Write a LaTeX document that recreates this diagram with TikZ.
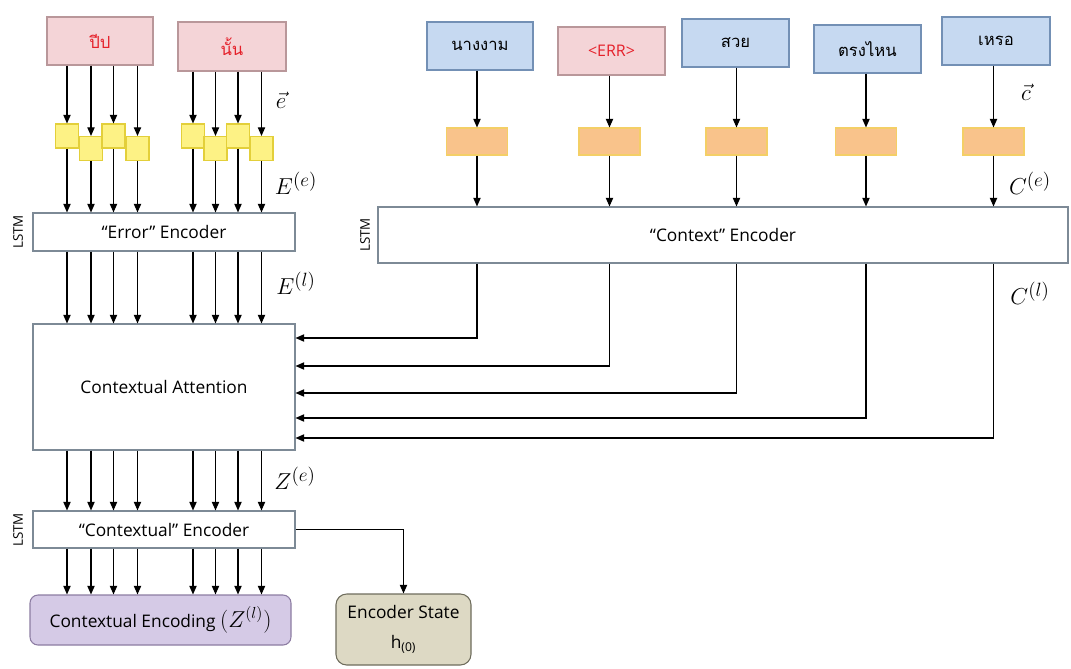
\documentclass[tikz,border=0pt]{standalone}
\usepackage{fontspec}
\setmainfont{Open Sans}
\newfontfamily\thaifont[Script=Thai]{Loma}
\usetikzlibrary{arrows.meta}
\definecolor{redfill}{HTML}{F4D4D7}
\definecolor{redline}{HTML}{B9979A}
\definecolor{redtext}{HTML}{E5202A}
\definecolor{bluefill}{HTML}{C6D9F1}
\definecolor{blueline}{HTML}{7390B5}
\definecolor{yfill}{HTML}{FDF285}
\definecolor{yline}{HTML}{E3CF3A}
\definecolor{ofill}{HTML}{F9C38B}
\definecolor{oline}{HTML}{F4CF66}
\definecolor{encline}{HTML}{7D8A96}
\definecolor{pfill}{HTML}{D5CAE6}
\definecolor{pline}{HTML}{8C7CA2}
\definecolor{bfill}{HTML}{DDD9C4}
\definecolor{bline}{HTML}{6E6C5C}
\tikzset{
 wsz/.style 2 args={minimum width=#1*0.75pt,minimum height=#2*0.75pt,inner sep=0pt},
 redbox/.style={draw=redline,fill=redfill,line width=0.8pt},
 bluebox/.style={draw=blueline,fill=bluefill,line width=0.8pt},
 ysq/.style={draw=yline,fill=yfill,line width=0.8pt,wsz={23}{24}},
 orect/.style={draw=oline,fill=ofill,line width=0.8pt,wsz={61}{27}},
 encbox/.style={draw=encline,fill=white,line width=0.8pt,font=\fontsize{13}{15}\selectfont},
 arr/.style={-{Triangle[length=6.5pt,width=5.5pt]},line width=0.85pt,black},
 thaitxt/.style={font=\thaifont\fontsize{12.5}{14}\selectfont},
 lstm/.style={rotate=90,font=\fontsize{10}{12}\selectfont},
 mlab/.style={font=\fontsize{19}{21}\selectfont},
}
\begin{document}
\begin{tikzpicture}[x=0.75pt,y=-0.75pt]
\useasboundingbox (0,0) rectangle (1071,668);
% error word boxes
\node[redbox,wsz={106}{48},thaitxt,text=redtext] (w1) at (100,41) {ปีป};
\node[redbox,wsz={108}{49},thaitxt,text=redtext] (w2) at (232,46.5) {นั้น};
% context word boxes
\node[bluebox,wsz={106}{48},thaitxt] (c1) at (480,46) {นางงาม};
\node[redbox,wsz={107}{48},font=\fontsize{12}{14}\selectfont,text=redtext] (c2) at (611.5,51) {<ERR>};
\node[bluebox,wsz={107}{48},thaitxt] (c3) at (735.5,43) {สวย};
\node[bluebox,wsz={107}{48},thaitxt] (c4) at (867.5,49) {ตรงไหน};
\node[bluebox,wsz={108}{48},thaitxt] (c5) at (996,41) {เหรอ};
% yellow character embeddings
\node[ysq] (s1) at (67,136) {};
\node[ysq] (s2) at (91,148.5) {};
\node[ysq] (s3) at (113.5,136) {};
\node[ysq] (s4) at (137.5,148.5) {};
\node[ysq] (s5) at (193,136) {};
\node[ysq] (s6) at (215.5,148.5) {};
\node[ysq] (s7) at (238,136) {};
\node[ysq] (s8) at (261.5,148.5) {};
% orange word embeddings
\node[orect] (o1) at (477,141.5) {};
\node[orect] (o2) at (609.5,141.5) {};
\node[orect] (o3) at (736.5,141.5) {};
\node[orect] (o4) at (866,141.5) {};
\node[orect] (o5) at (993.5,141.5) {};
% encoders
\node[encbox,wsz={262}{38}] (ee) at (164,232) {“Error” Encoder};
\node[encbox,wsz={690}{56}] (cx) at (723,235) {“Context” Encoder};
\node[encbox,wsz={262}{126}] (att) at (164,387) {Contextual Attention};
\node[encbox,wsz={262}{37}] (ce) at (164,529.5) {“Contextual” Encoder};
\node[draw=pline,fill=pfill,line width=0.8pt,rounded corners=6pt,wsz={261}{50},font=\fontsize{13}{15}\selectfont] (enc) at (160.5,620) {Contextual Encoding {\fontsize{17}{19}\selectfont$\bigl(Z^{(l)}\bigr)$}};
\node[draw=bline,fill=bfill,line width=0.8pt,rounded corners=8pt,wsz={135}{71},align=center,font=\fontsize{13}{22}\selectfont] (es) at (403.5,629.5) {Encoder State\\h\textsubscript{(0)}};
% LSTM labels
\node[lstm] (l1) at (18,232) {LSTM};
\node[lstm] (l2) at (365,235) {LSTM};
\node[lstm] (l3) at (18,530) {LSTM};
% math labels
\node[mlab] (ve) at (281,100) {$\vec{e}$};
\node[mlab] (Ee) at (296,183) {$E^{(e)}$};
\node[mlab] (El) at (296,283) {$E^{(l)}$};
\node[mlab] (Ze) at (295,478) {$Z^{(e)}$};
\node[mlab] (vc) at (1026,92) {$\vec{c}$};
\node[mlab] (Ce) at (1030,183) {$C^{(e)}$};
\node[mlab] (Cl) at (1030,293) {$C^{(l)}$};
% arrows: words -> char embeddings
\foreach \s in {s1,s2,s3,s4} \draw[arr] (\s |- w1.south) -- (\s.north);
\foreach \s in {s5,s6,s7,s8} \draw[arr] (\s |- w2.south) -- (\s.north);
% char embeddings -> error encoder, and on down the stack
\foreach \s in {s1,s2,s3,s4,s5,s6,s7,s8} {
  \draw[arr] (\s.south) -- (\s.south |- ee.north);
  \draw[arr] (\s |- ee.south) -- (\s |- att.north);
  \draw[arr] (\s |- att.south) -- (\s |- ce.north);
  \draw[arr] (\s |- ce.south) -- (\s |- enc.north);
}
% context words -> embeddings -> encoder
\foreach \c/\o in {c1/o1,c2/o2,c3/o3,c4/o4,c5/o5} {
  \draw[arr] (\o |- \c.south) -- (\o.north);
  \draw[arr] (\o.south) -- (\o.south |- cx.north);
}
% context encoder -> attention
\coordinate (y1) at (0,338);
\coordinate (y2) at (0,366);
\coordinate (y3) at (0,393);
\coordinate (y4) at (0,418);
\coordinate (y5) at (0,438);
\foreach \o/\y in {o1/y1,o2/y2,o3/y3,o4/y4,o5/y5}
  \draw[arr] (\o |- cx.south) |- (att.east |- \y);
% contextual encoder -> encoder state
\draw[arr] (ce.east) -| (es.north);
\end{tikzpicture}
\end{document}
